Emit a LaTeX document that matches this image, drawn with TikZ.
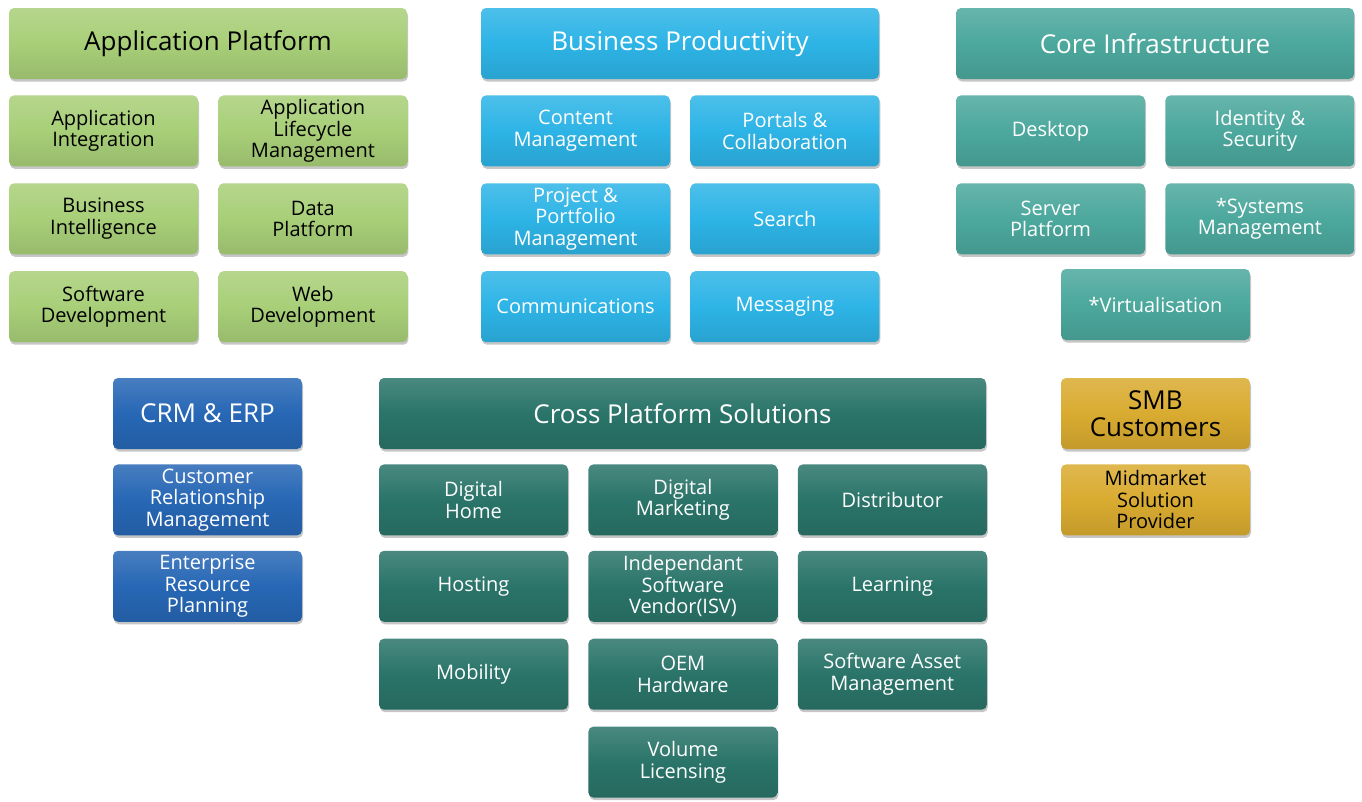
\documentclass[tikz,border=0pt]{standalone}
\usepackage{fontspec}
\setmainfont{Open Sans}
\usetikzlibrary{positioning,shadows}

\definecolor{apgreen}{HTML}{A8CF78}
\definecolor{bpsky}{HTML}{2DB4E6}
\definecolor{citeal}{HTML}{4CA89D}
\definecolor{crmblue}{HTML}{2767B5}
\definecolor{cpspine}{HTML}{2A7469}
\definecolor{smbgold}{HTML}{D9AB30}

\begin{document}
\begin{tikzpicture}[x=1pt,y=-1pt,node distance=16.5pt and 20pt,
    box/.style={rectangle,rounded corners=5pt,align=center,inner sep=2pt,
      top color=#1!85!white,bottom color=#1!90!black,middle color=#1,
      drop shadow={shadow xshift=1pt,shadow yshift=-2.5pt,opacity=.45}},
    head node/.style={minimum width=#1,minimum height=71pt,font=\fontsize{26}{27}\selectfont},
    head node/.default=398pt,
    sub node/.style={minimum width=189pt,minimum height=71pt,font=\fontsize{20}{21.5}\selectfont},
    green box/.style={box=apgreen,text=black}, sky box/.style={box=bpsky,text=white},
    teal box/.style={box=citeal,text=white}, blue box/.style={box=crmblue,text=white},
    pine box/.style={box=cpspine,text=white}, gold box/.style={box=smbgold,text=black}]

  \useasboundingbox (0,0) rectangle (1362,801);

  % Application Platform
  \node[green box,head node] (ap) at (208,43.5) {Application Platform};
  \node[green box,sub node] (ai) [below right=16pt and 0pt of ap.south west] {Application\\Integration};
  \node[green box,sub node] (alm) [right=of ai] {Application\\Lifecycle\\Management};
  \node[green box,sub node] (bi) [below=of ai] {Business\\Intelligence};
  \node[green box,sub node] (dp) [right=of bi] {Data\\Platform};
  \node[green box,sub node] (sd) [below=of bi] {Software\\Development};
  \node[green box,sub node] (wd) [right=of sd] {Web\\Development};

  % Business Productivity
  \node[sky box,head node] (bp) at (680,43.5) {Business Productivity};
  \node[sky box,sub node] (cm) [below right=16pt and 0pt of bp.south west] {Content\\Management};
  \node[sky box,sub node] (pc) [right=of cm] {Portals \&\\Collaboration};
  \node[sky box,sub node] (ppm) [below=of cm] {Project \&\\Portfolio\\Management};
  \node[sky box,sub node] (se) [right=of ppm] {Search};
  \node[sky box,sub node] (co) [below=of ppm] {Communications};
  \node[sky box,sub node] (me) [right=of co] {Messaging};

  % Core Infrastructure
  \node[teal box,head node] (ci) at (1155,43.5) {Core Infrastructure};
  \node[teal box,sub node] (dt) [below right=16pt and 0pt of ci.south west] {Desktop};
  \node[teal box,sub node] (is) [right=of dt] {Identity \&\\Security};
  \node[teal box,sub node] (sp) [below=of dt] {Server\\Platform};
  \node[teal box,sub node] (sm) [right=of sp] {*Systems\\Management};
  \node[teal box,sub node] (vi) at (1155.5,304.5) {*Virtualisation};

  % CRM & ERP
  \node[blue box,head node=189pt] (crm) at (207.5,413.5) {CRM \& ERP};
  \node[blue box,sub node] (crmx) [below=15pt of crm] {Customer\\Relationship\\Management};
  \node[blue box,sub node] (erp) [below=15pt of crmx] {Enterprise\\Resource\\Planning};

  % Cross Platform Solutions
  \node[pine box,head node=607pt] (cps) at (682.5,413.5) {Cross Platform Solutions};
  \node[pine box,sub node] (dh) [below right=15pt and 0pt of cps.south west] {Digital\\Home};
  \node[pine box,sub node] (dm) [right=of dh] {Digital\\Marketing};
  \node[pine box,sub node] (di) [right=of dm] {Distributor};
  \node[pine box,sub node] (ho) [below=15pt of dh] {Hosting};
  \node[pine box,sub node] (isv) [right=of ho] {Independant\\Software\\Vendor(ISV)};
  \node[pine box,sub node] (le) [right=of isv] {Learning};
  \node[pine box,sub node] (mo) [below=of ho] {Mobility};
  \node[pine box,sub node] (oem) [right=of mo] {OEM\\Hardware};
  \node[pine box,sub node] (sam) [right=of oem] {Software Asset\\Management};
  \node[pine box,sub node] (vl) [below=of oem] {Volume\\Licensing};

  % SMB Customers
  \node[gold box,head node=189pt] (smb) at (1155.5,413.5) {SMB\\Customers};
  \node[gold box,sub node] (msp) [below=15pt of smb] {Midmarket\\Solution\\Provider};

\end{tikzpicture}
\end{document}
